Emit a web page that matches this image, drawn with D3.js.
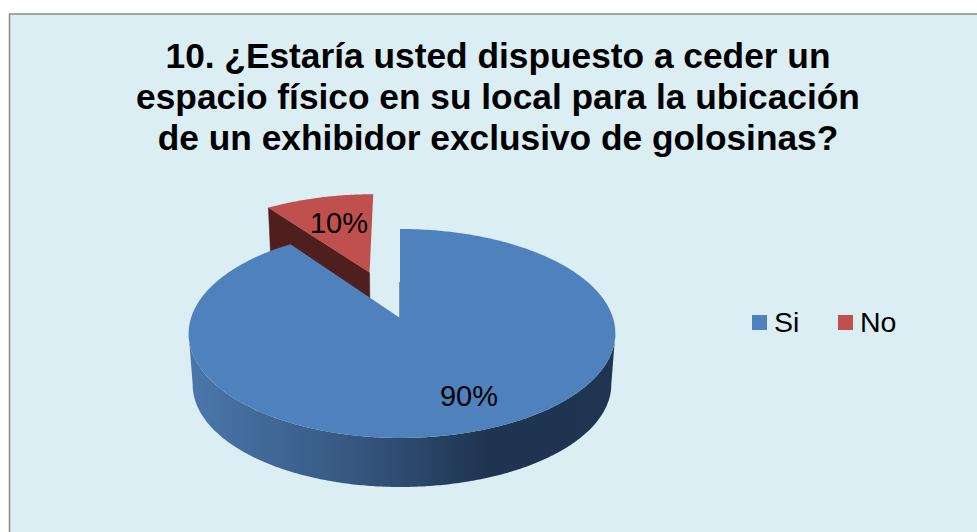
<!DOCTYPE html>
<html><head><meta charset="utf-8">
<script src="https://cdn.jsdelivr.net/npm/d3@7"></script>
<style>html,body{margin:0;padding:0;background:#fff}svg{display:block}text{font-family:"Liberation Sans",Arial,sans-serif;fill:#000}</style>
</head><body><script>
const categories = ["Si", "No"];
const values = [90, 10];
const labels = ["90%", "10%"];
const titleLines = ["10. ¿Estaría usted dispuesto a ceder un","espacio físico en su local para la ubicación","de un exhibidor exclusivo de golosinas?"];
const colors = ["#4f81bd", "#c0504d"];
const explode = [0, 0.5];

const W = 977, H = 532;
const svg = d3.select("body").append("svg").attr("width", W).attr("height", H);
const defs = svg.append("defs");
const grad = defs.append("linearGradient").attr("id","wall").attr("gradientUnits","userSpaceOnUse")
  .attr("x1",188).attr("x2",615).attr("y1",0).attr("y2",0);
[[0,"#4a77ab"],[0.15,"#426b9b"],[0.33,"#395c87"],[0.5,"#2e4b70"],[0.7,"#1f3450"],[1,"#1f3551"]]
  .forEach(([o,c])=>grad.append("stop").attr("offset",o).attr("stop-color",c));

svg.append("rect").attr("x",9.5).attr("y",14).attr("width",W+20).attr("height",H+20)
  .attr("fill","#dbeef4").attr("stroke","#8a8a8a").attr("stroke-width",1.5);

svg.append("g").selectAll("text").data(titleLines).join("text")
  .attr("x",498).attr("y",(d,i)=>68+i*41).attr("text-anchor","middle")
  .attr("font-size",35.3).attr("font-weight","bold").text(d=>d);

// perspective projection of the pie's disc onto the page
const k = 0.148;
const topFace = {x:400, y:318, rx:211, ry:102.2};
const botFace = {x:400, y:369.4, rx:207, ry:100.2};
const project = (face, a, r, e, mid) => {
  const u = r*Math.sin(a) + e*Math.sin(mid), v = -r*Math.cos(a) - e*Math.cos(mid);
  const w = 1 - k*v;
  const lean = e === 0 ? 2*Math.abs(u) : 0;
  return [face.x + lean + face.rx*u/w, face.y + face.ry*v/w];
};
const pie = d3.pie().sort(null).startAngle(0).endAngle(2*Math.PI);
const slices = pie(values).map((s,i)=>({...s, mid:(s.startAngle+s.endAngle)/2, e:explode[i], color:colors[i]}));
const line = d3.line();
const arcPts = (face,s,a0,a1) => {
  const n = Math.max(2, Math.ceil(Math.abs(a1-a0)/0.01));
  return d3.range(n+1).map(i=>project(face, a0+(a1-a0)*i/n, 1, s.e, s.mid));
};
const wedge = (face,s) => [project(face,0,0,s.e,s.mid), ...arcPts(face,s,s.startAngle,s.endAngle)];
const [si, no] = slices;

const g = svg.append("g");
// red slice: inner wall, then top
const noA = project(topFace,no.startAngle,1,no.e,no.mid), noB = project(botFace,no.startAngle,1,no.e,no.mid);
const noO = project(topFace,0,0,no.e,no.mid), noOb = project(botFace,0,0,no.e,no.mid);
g.append("path").attr("d",line([noA,noO,noOb,noB])+"Z").attr("fill","#4e1f1c").attr("stroke","#4e1f1c").attr("stroke-width",.5);
g.append("path").attr("d",line(wedge(topFace,no))+"Z").attr("fill",no.color);

// blue slice: thin cut edge at the notch, outer wall between the ellipse tangents, then top
g.append("path").attr("d",line([project(botFace,si.startAngle,1,si.e,si.mid), project(topFace,0,0,si.e,si.mid)]))
  .attr("fill","none").attr("stroke","#1f3551").attr("stroke-width",1);
const a0 = Math.PI/2 + Math.asin(k), a1 = 3*Math.PI/2 - Math.asin(k);
g.append("path").attr("d",line([...arcPts(topFace,si,a0,a1), ...arcPts(botFace,si,a1,a0)])+"Z").attr("fill","url(#wall)");
g.append("path").attr("d",line(wedge(topFace,si))+"Z").attr("fill",si.color);

svg.append("text").attr("x",469).attr("y",406).attr("text-anchor","middle").attr("font-size",29).text(labels[0]);
svg.append("text").attr("x",339).attr("y",232.5).attr("text-anchor","middle").attr("font-size",29).text(labels[1]);

const legendX = d3.scaleOrdinal().domain(categories).range([752,838]);
const leg = svg.append("g").selectAll("g").data(categories).join("g").attr("transform",d=>`translate(${legendX(d)},315)`);
leg.append("rect").attr("width",15).attr("height",15).attr("fill",(d,i)=>colors[i]);
leg.append("text").attr("x",22).attr("y",17).attr("font-size",28.5).text(d=>d);
</script></body></html>
